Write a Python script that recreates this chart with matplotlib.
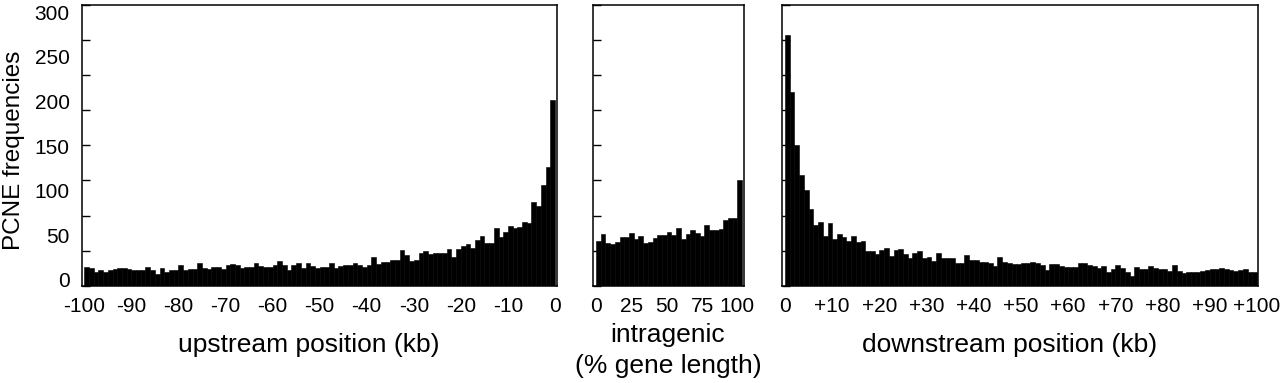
import matplotlib
matplotlib.use("Agg")
import matplotlib.pyplot as plt
import numpy as np

plt.rcParams['font.family'] = ['Liberation Sans', 'DejaVu Sans']

# ---------------- data ----------------
upstream_edges = list(range(-100, 0))          # 1 kb bins, left edges
upstream_counts = [20, 19, 15, 17, 15, 17, 18, 19, 19, 18,
                   17, 17, 17, 20, 17, 13, 19, 15, 17, 17,
                   22, 17, 18, 18, 25, 19, 18, 20, 20, 18,
                   22, 23, 22, 19, 20, 20, 25, 21, 20, 20,
                   22, 27, 22, 17, 22, 25, 19, 25, 21, 19,
                   20, 20, 25, 19, 21, 22, 22, 25, 22, 20,
                   22, 31, 23, 26, 26, 28, 28, 38, 33, 27,
                   28, 35, 37, 34, 35, 35, 35, 39, 31, 39,
                   43, 45, 41, 49, 53, 46, 46, 62, 52, 58,
                   64, 62, 63, 68, 67, 90, 85, 108, 127, 198]

intragenic_width = 100 / 30
intragenic_edges = [i * intragenic_width for i in range(31)]
intragenic_counts = [48, 55, 46, 45, 47, 52, 52, 56, 50, 53,
                     46, 47, 51, 54, 54, 58, 54, 62, 50, 55,
                     60, 57, 53, 65, 60, 60, 61, 70, 73, 73, 113]

downstream_edges = list(range(0, 100))
downstream_counts = [268, 207, 150, 118, 102, 82, 65, 68, 53, 67,
                     50, 55, 52, 48, 53, 47, 48, 37, 37, 34,
                     38, 40, 32, 38, 39, 34, 30, 35, 37, 30,
                     31, 27, 35, 30, 30, 30, 25, 25, 33, 28,
                     28, 26, 26, 24, 21, 31, 26, 25, 23, 23,
                     24, 24, 26, 24, 22, 17, 23, 23, 21, 20,
                     20, 20, 24, 24, 22, 21, 19, 21, 15, 18,
                     22, 19, 15, 11, 20, 18, 18, 21, 19, 18,
                     18, 16, 22, 16, 14, 15, 15, 15, 16, 17,
                     18, 18, 19, 18, 17, 16, 17, 18, 15, 15]

upstream_ticks = list(range(-100, 1, 10))
upstream_ticklabels = ['-100', '-90', '-80', '-70', '-60', '-50', '-40', '-30', '-20', '-10', '0']
intragenic_ticks = [0, 25, 50, 75, 100]
intragenic_ticklabels = ['0', '25', '50', '75', '100']
downstream_ticks = list(range(0, 101, 10))
downstream_ticklabels = ['0', '+10', '+20', '+30', '+40', '+50', '+60', '+70', '+80', '+90', '+100']
y_labels = ['0', '50', '100', '150', '200', '250', '300']
y_label_values = [0, 50, 100, 150, 200, 250, 300]

# ---------------- figure ----------------
W, H = 1280, 383
fig = plt.figure(figsize=(W / 100, H / 100), dpi=100)

def axes_px(left, right, top, bottom):
    return fig.add_axes([left / W, (H - bottom) / H, (right - left) / W, (bottom - top) / H])

TOP, BOT = 4.5, 286
ax1 = axes_px(82, 557, TOP, BOT)
ax2 = axes_px(593, 744, TOP, BOT)
ax3 = axes_px(782, 1258, TOP, BOT)

FS_TICK = 15
FS_LAB = 19
FS_YLAB = 17.5

def style(ax):
    ax.set_ylim(0, 300)
    for s in ax.spines.values():
        s.set_linewidth(1.1)
        s.set_color('black')
    ax.yaxis.set_minor_locator(matplotlib.ticker.MultipleLocator(37.5))
    ax.tick_params(axis='y', which='minor', direction='in', length=6, width=1.0)
    ax.tick_params(axis='y', which='major', length=0, labelsize=FS_TICK, pad=9)
    ax.tick_params(axis='x', which='major', length=0, labelsize=FS_TICK, pad=8)
    # labels are drawn slightly compressed relative to the axis in the original
    ax.set_yticks([6.4 + v * 0.952 for v in y_label_values])

ax1.bar(upstream_edges, upstream_counts, width=1, align='edge', color='black',
        edgecolor='black', linewidth=0.4)
ax1.set_xlim(-100.49, 0.42)
style(ax1)
ax1.set_yticklabels(y_labels)
ax1.set_xticks(upstream_ticks)
ax1.set_xticklabels(upstream_ticklabels)

ax2.bar(intragenic_edges, intragenic_counts, width=intragenic_width, align='edge',
        color='black', edgecolor='black', linewidth=0.4)
ax2.set_xlim(-2.1, 104.7)
style(ax2)
ax2.set_yticklabels([])
ax2.set_xticks(intragenic_ticks)
ax2.set_xticklabels(intragenic_ticklabels)

ax3.bar(downstream_edges, downstream_counts, width=1, align='edge', color='black',
        edgecolor='black', linewidth=0.4)
ax3.set_xlim(-0.64, 100.2)
style(ax3)
ax3.set_yticklabels([])
ax3.set_xticks(downstream_ticks)
ax3.set_xticklabels(downstream_ticklabels)

def ftext(x, y, s, fs=FS_LAB, **kw):
    fig.text(x / W, 1 - y / H, s, ha='center', va='center', fontsize=fs, **kw)

ftext(14, 150, 'PCNE frequencies', fs=FS_YLAB, rotation=90)
ftext(309, 345, 'upstream position (kb)')
ftext(668, 335, 'intragenic')
ftext(668, 366, '(% gene length)')
ftext(1010, 345, 'downstream position (kb)')

fig.savefig('out.png', dpi=100, facecolor='white')
